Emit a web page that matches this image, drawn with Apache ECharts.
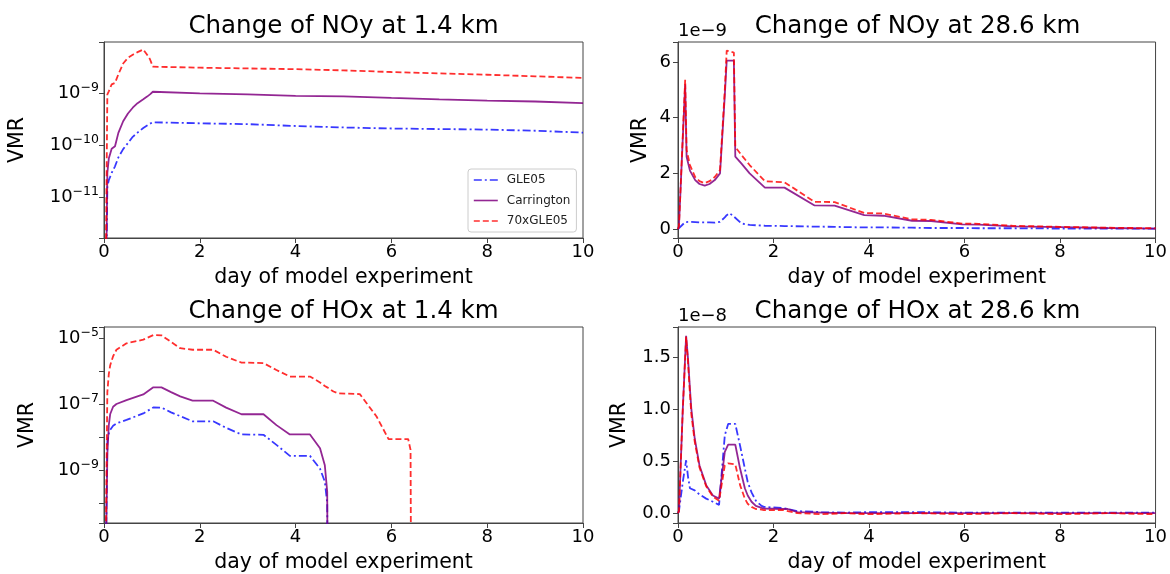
<!DOCTYPE html>
<html>
<head>
<meta charset="utf-8">
<script src="https://cdn.jsdelivr.net/npm/echarts@6/dist/echarts.min.js"></script>
<style>
html, body { margin: 0; padding: 0; background: #fff; }
#main { width: 1170px; height: 574px; }
</style>
</head>
<body>
<div id="main"></div>
<script>
// stands in for zero on the log axes (drawn below the visible range)
var FLOOR = 1e-16;

var seriesNames = ['GLE05', 'Carrington', '70xGLE05'];

// NOy at 1.4 km (VMR)
var noyLowDays = [0, 0.07, 0.1, 0.16, 0.23, 0.3, 0.4, 0.5, 0.6, 0.7, 0.82, 0.9, 0.96, 1.02, 2, 3, 4, 5, 6, 7, 8, 9, 10];
var noyLowGle = [FLOOR, 1.55e-11, 2.1e-11, 2.9e-11, 3.9e-11, 5.8e-11, 8.4e-11, 1.1e-10, 1.45e-10, 1.75e-10, 2.15e-10, 2.4e-10, 2.6e-10, 2.77e-10, 2.65e-10, 2.55e-10, 2.35e-10, 2.2e-10, 2.1e-10, 2.05e-10, 2.0e-10, 1.9e-10, 1.75e-10];
var noyLowCar = [FLOOR, 2.9e-11, 5.5e-11, 8.5e-11, 9.5e-11, 1.73e-10, 2.9e-10, 4.1e-10, 5.3e-10, 6.5e-10, 7.7e-10, 8.7e-10, 9.6e-10, 1.08e-9, 1.0e-9, 9.6e-10, 9.0e-10, 8.8e-10, 8.2e-10, 7.7e-10, 7.3e-10, 7.0e-10, 6.5e-10];
var noyLow70 = [FLOOR, 9.6e-10, 1.1e-9, 1.5e-9, 1.6e-9, 2.35e-9, 3.8e-9, 4.9e-9, 5.6e-9, 6.3e-9, 7.1e-9, 5.6e-9, 4.6e-9, 3.3e-9, 3.15e-9, 3.05e-9, 2.95e-9, 2.8e-9, 2.6e-9, 2.45e-9, 2.3e-9, 2.15e-9, 2.0e-9];

// NOy at 28.6 km (units of 1e-9)
var noyHighDays = [0, 0.02, 0.15, 0.18, 0.25, 0.36, 0.45, 0.56, 0.66, 0.77, 0.88, 0.98, 1.02, 1.08, 1.17, 1.2, 1.33, 1.5, 1.82, 2.23, 2.86, 3.28, 3.9, 4.3, 4.9, 5.3, 5.95, 6.3, 7, 8, 9, 10];
var noyHighGle = [0, 0.05, 0.25, 0.27, 0.26, 0.25, 0.24, 0.24, 0.24, 0.23, 0.26, 0.42, 0.5, 0.57, 0.45, 0.4, 0.2, 0.15, 0.12, 0.11, 0.09, 0.08, 0.06, 0.06, 0.05, 0.04, 0.04, 0.03, 0.03, 0.02, 0.02, 0.02];
var noyHighCar = [0, 0.1, 5.2, 2.6, 2.1, 1.76, 1.62, 1.56, 1.62, 1.76, 2.0, 4.8, 6.05, 6.05, 6.05, 2.6, 2.35, 2.0, 1.49, 1.49, 0.85, 0.84, 0.5, 0.48, 0.3, 0.29, 0.17, 0.16, 0.1, 0.07, 0.04, 0.02];
var noyHigh70 = [0, 0.1, 5.36, 2.84, 2.3, 1.87, 1.72, 1.65, 1.72, 1.87, 2.12, 5.0, 6.41, 6.38, 6.34, 2.95, 2.66, 2.3, 1.72, 1.68, 0.98, 0.97, 0.58, 0.56, 0.35, 0.33, 0.2, 0.19, 0.12, 0.08, 0.05, 0.03];

// HOx at 1.4 km (VMR)
var hoxLowDays = [0, 0.07, 0.1, 0.13, 0.19, 0.26, 0.47, 0.82, 1.03, 1.2, 1.4, 1.59, 1.85, 2.28, 2.55, 2.87, 3.33, 3.6, 3.88, 4.3, 4.51, 4.61, 4.66, 4.68, 4.79, 4.89, 5.34, 5.69, 5.94, 6.35, 6.4, 6.42, 10];
var hoxLowGle = [FLOOR, 7.2e-9, 1.26e-8, 1.66e-8, 2.2e-8, 2.6e-8, 3.3e-8, 5.2e-8, 7.9e-8, 7.8e-8, 5.6e-8, 4.3e-8, 3.0e-8, 3.0e-8, 1.9e-8, 1.2e-8, 1.17e-8, 5.8e-9, 2.7e-9, 2.7e-9, 1.1e-9, 4.5e-10, 1e-10, FLOOR, FLOOR, FLOOR, FLOOR, FLOOR, FLOOR, FLOOR, FLOOR, FLOOR, FLOOR];
var hoxLowCar = [FLOOR, 3e-9, 2.3e-8, 5e-8, 8.3e-8, 1e-7, 1.32e-7, 1.95e-7, 3.2e-7, 3.2e-7, 2.3e-7, 1.7e-7, 1.26e-7, 1.26e-7, 7.8e-8, 4.9e-8, 4.9e-8, 2.3e-8, 1.2e-8, 1.2e-8, 4.6e-9, 1.4e-9, 2.2e-10, FLOOR, FLOOR, FLOOR, FLOOR, FLOOR, FLOOR, FLOOR, FLOOR, FLOOR, FLOOR];
var hoxLow70 = [FLOOR, 2.3e-7, 8e-7, 1.5e-6, 2.8e-6, 4.4e-6, 6.9e-6, 8.9e-6, 1.23e-5, 1.2e-5, 7.6e-6, 4.9e-6, 4.4e-6, 4.4e-6, 2.7e-6, 1.8e-6, 1.74e-6, 1.07e-6, 6.8e-7, 6.8e-7, 4.5e-7, 3.5e-7, 3.2e-7, 3.0e-7, 2.4e-7, 2.1e-7, 2.0e-7, 4.2e-8, 8.7e-9, 8.7e-9, 4.1e-9, FLOOR, FLOOR];

// HOx at 28.6 km (units of 1e-8)
var hoxHighDays = [0, 0.02, 0.1, 0.17, 0.21, 0.25, 0.28, 0.35, 0.45, 0.59, 0.73, 0.86, 0.98, 1.05, 1.2, 1.3, 1.4, 1.46, 1.54, 1.63, 1.75, 1.8, 2.2, 2.3, 2.5, 3, 3.5, 4, 5, 6, 7, 8, 9, 10];
var hoxHighGle = [0, 0.02, 0.3, 0.51, 0.35, 0.24, 0.23, 0.22, 0.18, 0.14, 0.11, 0.08, 0.75, 0.86, 0.86, 0.65, 0.43, 0.3, 0.2, 0.12, 0.07, 0.06, 0.05, 0.04, 0.02, 0.01, 0.005, 0.01, 0.01, 0.005, 0.005, 0.005, 0.005, 0.005];
var hoxHighCar = [0, 0.02, 1.0, 1.71, 1.49, 1.2, 1.0, 0.72, 0.46, 0.27, 0.17, 0.14, 0.59, 0.66, 0.66, 0.43, 0.24, 0.17, 0.11, 0.07, 0.05, 0.045, 0.04, 0.04, 0.01, 0.005, 0, 0, 0, 0, 0, 0, 0, 0];
var hoxHigh70 = [0, 0.02, 1.0, 1.7, 1.45, 1.15, 0.95, 0.69, 0.44, 0.26, 0.16, 0.12, 0.46, 0.48, 0.47, 0.27, 0.14, 0.09, 0.06, 0.04, 0.035, 0.03, 0.03, 0.02, 0, -0.01, 0, -0.01, 0, -0.01, 0, -0.01, 0, -0.01];

var panels = [
    {title: 'Change of NOy at 1.4 km', days: noyLowDays, ys: [noyLowGle, noyLowCar, noyLow70],
     type: 'log', min: 1.6e-12, max: 9.9e-9, decStep: 1, nameGap: 76},
    {title: 'Change of NOy at 28.6 km', days: noyHighDays, ys: [noyHighGle, noyHighCar, noyHigh70],
     type: 'value', min: -0.32, max: 6.72, step: 2, dec: 0, offset: '1e\u22129', nameGap: 27},
    {title: 'Change of HOx at 1.4 km', days: hoxLowDays, ys: [hoxLowGle, hoxLowCar, hoxLow70],
     type: 'log', min: 2.5e-11, max: 2.15e-5, decStep: 2, nameGap: 66},
    {title: 'Change of HOx at 28.6 km', days: hoxHighDays, ys: [hoxHighGle, hoxHighCar, hoxHigh70],
     type: 'value', min: -0.095, max: 1.795, step: 0.5, dec: 1, offset: '1e\u22128', nameGap: 48}
];

var boxes = [
    {left: 104, top: 42}, {left: 678, top: 42},
    {left: 104, top: 327}, {left: 678, top: 327}
];
var plotW = 479, plotH = 196;

var lineStyles = [
    {color: 'rgba(0,0,255,0.78)', type: [8, 3, 2, 3]},
    {color: 'rgba(128,0,128,0.85)', type: 'solid'},
    {color: 'rgba(255,0,0,0.82)', type: [6, 3]}
];

var frame = '#444';

function pairs(days, vals) {
    return days.map(function (d, i) { return [d, vals[i]]; });
}

function logLabel(decStep) {
    return function (v) {
        var lg = Math.log10(v);
        var e = Math.round(lg);
        if (Math.abs(lg - e) > 1e-6 || Math.abs(e % decStep) !== (decStep === 2 ? 1 : 0)) return '';
        return '{b|10}{s|\u2212' + (-e) + '}';
    };
}

function linLabel(step, dec) {
    return function (v) {
        var k = v / step;
        if (Math.abs(k - Math.round(k)) > 1e-6) return '';
        return (Math.round(k) * step).toFixed(dec);
    };
}

var grid = [], xAxis = [], yAxis = [], series = [], graphic = [];

panels.forEach(function (p, i) {
    var b = boxes[i];
    grid.push({left: b.left, top: b.top, width: plotW, height: plotH,
        show: true, borderColor: frame, borderWidth: 1, backgroundColor: 'transparent'});

    xAxis.push({
        gridIndex: i, type: 'value', min: 0, max: 10, interval: 2,
        name: 'day of model experiment', nameLocation: 'middle', nameGap: 29,
        nameTextStyle: {fontSize: 20.5, color: '#000', fontFamily: 'DejaVu Sans'},
        axisLine: {onZero: false, lineStyle: {color: frame}},
        axisTick: {length: 5, lineStyle: {color: frame}},
        axisLabel: {fontSize: 18, color: '#000', margin: 5, fontFamily: 'DejaVu Sans'},
        splitLine: {show: false}
    });

    var y = {
        gridIndex: i, type: p.type, min: p.min, max: p.max,
        name: 'VMR', nameLocation: 'middle', nameGap: p.nameGap,
        nameTextStyle: {fontSize: 20.5, color: '#000', fontFamily: 'DejaVu Sans'},
        axisLine: {onZero: false, lineStyle: {color: frame}},
        axisTick: {length: 5, lineStyle: {color: frame}},
        splitLine: {show: false}
    };
    if (p.type === 'log') {
        y.logBase = 10;
        y.axisLabel = {formatter: logLabel(p.decStep), margin: 5,
            rich: {
                b: {fontSize: 18, color: '#000', fontFamily: 'DejaVu Sans'},
                s: {fontSize: 12.5, color: '#000', fontFamily: 'DejaVu Sans', padding: [0, 0, 11, 0]}
            }};
    } else {
        y.splitNumber = 4;
        y.axisLabel = {formatter: linLabel(p.step, p.dec), fontSize: 18, color: '#000',
            margin: 7, fontFamily: 'DejaVu Sans'};
    }
    yAxis.push(y);

    p.ys.forEach(function (vals, k) {
        series.push({
            name: seriesNames[k], type: 'line', xAxisIndex: i, yAxisIndex: i,
            data: pairs(p.days, vals), showSymbol: false, symbol: 'none',
            lineStyle: {width: 1.8, color: lineStyles[k].color, type: lineStyles[k].type},
            itemStyle: {color: lineStyles[k].color},
            clip: true, z: 2 + k
        });
    });

    graphic.push({
        type: 'text', x: b.left + plotW / 2, y: b.top - 15,
        style: {text: p.title, fill: '#000', font: '24.5px "DejaVu Sans"',
            align: 'center', verticalAlign: 'middle'}
    });
    if (p.offset) {
        graphic.push({
            type: 'text', x: b.left, y: b.top - 11,
            style: {text: p.offset, fill: '#000', font: '18px "DejaVu Sans"',
                align: 'left', verticalAlign: 'middle'}
        });
    }
});

var chart = echarts.init(document.getElementById('main'), null, {renderer: 'canvas'});
chart.setOption({
    backgroundColor: '#fff',
    animation: false,
    grid: grid,
    xAxis: xAxis,
    yAxis: yAxis,
    series: series,
    graphic: graphic,
    legend: {
        data: seriesNames,
        orient: 'vertical', left: 468, top: 169,
        padding: [5, 6, 5, 5], itemGap: 8.5, itemWidth: 24, itemHeight: 12,
        itemStyle: {opacity: 0},
        lineStyle: {width: 1.6},
        backgroundColor: 'rgba(255,255,255,0.8)', borderColor: '#ccc', borderWidth: 1, borderRadius: 3,
        textStyle: {fontSize: 12, color: '#222', fontFamily: 'DejaVu Sans', padding: [0, 0, 0, 4]},
        selectedMode: false
    }
});
</script>
</body>
</html>
